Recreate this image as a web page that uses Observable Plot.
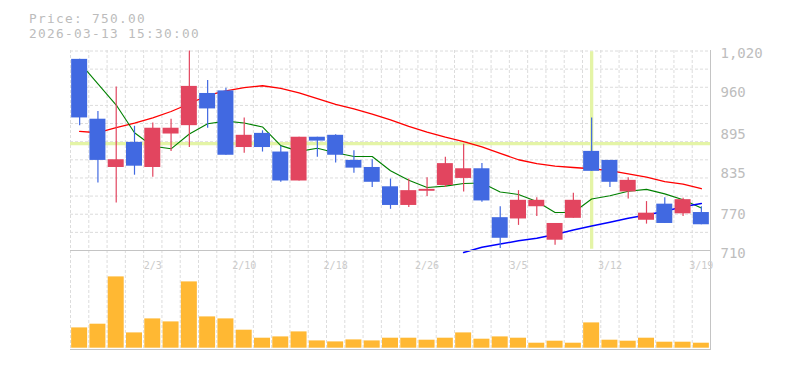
<!DOCTYPE html>
<html>
<head>
<meta charset="utf-8">
<script src="https://cdn.jsdelivr.net/npm/d3@7"></script>
<script src="https://cdn.jsdelivr.net/npm/@observablehq/plot@0.6"></script>
<style>
  body { margin: 0; background: #fff; }
  #chart { position: relative; width: 785px; height: 370px; overflow: hidden; }
  #chart svg { position: absolute; left: 0; }
</style>
</head>
<body>
<div id="chart"></div>
<script>
// ---- data ----
const dates = ["1/28","1/29","1/30","2/2","2/3","2/4","2/5","2/6","2/9","2/10","2/12","2/13","2/16","2/17","2/18","2/19","2/20","2/24","2/25","2/26","2/27","3/2","3/3","3/4","3/5","3/6","3/9","3/10","3/11","3/12","3/13","3/16","3/17","3/18","3/19"];
const open  = [1007, 914, 839, 878, 839, 891, 904, 954, 958, 870, 892, 863, 818, 886, 889, 850, 839, 809, 780, 802, 811, 822, 837, 761, 759, 778, 726, 760, 864, 850, 801, 757, 782, 767, 769];
const high  = [1007, 926, 964, 903, 908, 914, 1020, 974, 962, 916, 896, 872, 886, 886, 890, 865, 851, 821, 821, 823, 855, 875, 845, 778, 803, 792, 752, 799, 916, 850, 823, 786, 792, 791, 778];
const low   = [904, 815, 784, 827, 824, 864, 870, 900, 858, 861, 863, 816, 818, 855, 846, 830, 808, 774, 777, 794, 808, 801, 785, 713, 749, 763, 718, 760, 833, 808, 790, 751, 752, 763, 750];
const close = [916, 850, 851, 841, 900, 900, 965, 930, 858, 889, 870, 818, 886, 880, 858, 838, 816, 780, 803, 805, 845, 837, 787, 729, 788, 788, 752, 788, 833, 816, 819, 768, 752, 789, 750];
const volume = [20300, 24000, 71300, 15300, 29300, 26300, 66300, 31300, 29300, 18000, 10000, 11300, 16300, 7300, 6300, 8300, 7300, 10000, 10000, 8000, 10000, 15300, 9000, 11300, 10000, 5000, 7000, 5000, 25300, 8000, 7000, 10000, 6000, 6000, 5000];
const ma5  = [1002, 969, 936, 893, 872, 868, 891, 907, 911, 908, 902, 873, 864, 869, 862, 856, 856, 834, 819, 808, 810, 814, 815, 801, 797, 786, 769, 769, 790, 795, 802, 805, 798, 789, 776];
const ma25 = [895, 893, 901, 908, 916, 926, 938, 951, 958, 963, 966, 962, 955, 946, 937, 930, 922, 913, 903, 894, 886, 879, 871, 861, 851, 845, 841, 839, 837, 834, 829, 824, 817, 813, 806];
const ma75 = [null, null, null, null, null, null, null, null, null, null, null, null, null, null, null, null, null, null, null, null, null, 707, 715, 720, 725, 729, 735, 742, 748, 754, 760, 765, 771, 778, 783];
const xTickLabels = ["2/3","2/10","2/18","2/26","3/5","3/12","3/19"];
const yTickLabels = [1020, 960, 895, 835, 770, 710];
const priceLabel = "Price: 750.00";
const timeLabel = "2026-03-13 15:30:00";
const crossDate = "3/11";
const crossPrice = 876;

// ---- styles ----
const RED = "#e2455f", BLUE = "#4169e1", VOL = "#ffb833";
const GRID = "#dcdcdc", AXIS = "#c4c4c4", CROSS = "#e4f4a6";
const FONT = "DejaVu Sans Mono, monospace";

const rows = dates.map((d, i) => ({i, d, o: open[i], h: high[i], l: low[i], c: close[i], v: volume[i], m5: ma5[i], m25: ma25[i], m75: ma75[i]}));
const up = rows.filter(r => r.c >= r.o);
const down = rows.filter(r => r.c < r.o);
const xDomain = [-0.5, dates.length - 0.5];
const xRange = [70, 710];
const inset = 1.15;

const price = Plot.plot({
  width: 785, height: 252,
  marginTop: 50, marginBottom: 2, marginLeft: 70, marginRight: 75,
  x: {domain: xDomain, range: xRange, axis: null},
  y: {domain: [710, 1020], range: [250, 50.5], axis: null},
  style: {background: "transparent", overflow: "visible"},
  marks: [
    Plot.ruleY(d3.range(11).map(k => 1020 - k * 310 / 11), {stroke: GRID, strokeDasharray: "3,2"}),
    Plot.ruleX(d3.range(dates.length).map(k => k - 0.5), {stroke: GRID, strokeDasharray: "3,2"}),
    Plot.ruleY([crossPrice], {stroke: CROSS, strokeWidth: 3.3}),
    Plot.ruleX([dates.indexOf(crossDate)], {stroke: CROSS, strokeWidth: 3.3, y1: 712, y2: 1019}),
    Plot.line(rows, {x: "i", y: "m25", stroke: "#ff0000", strokeWidth: 1.3}),
    Plot.line(rows, {x: "i", y: "m5", stroke: "#008000", strokeWidth: 1.1}),
    Plot.line(rows, {x: "i", y: "m75", stroke: "#0000ff", strokeWidth: 1.5}),
    Plot.ruleX(up, {x: "i", y1: "l", y2: "h", stroke: RED, strokeWidth: 1.2}),
    Plot.ruleX(down, {x: "i", y1: "l", y2: "h", stroke: BLUE, strokeWidth: 1.2}),
    Plot.rect(up, {x1: d => d.i - 0.5, x2: d => d.i + 0.5, y1: "o", y2: "c", fill: RED, insetLeft: inset, insetRight: inset}),
    Plot.rect(down, {x1: d => d.i - 0.5, x2: d => d.i + 0.5, y1: "o", y2: "c", fill: BLUE, insetLeft: inset, insetRight: inset}),
    Plot.frame({anchor: "bottom", stroke: AXIS}),
    Plot.frame({anchor: "right", stroke: AXIS}),
    Plot.text(yTickLabels, {x: xDomain[1], y: d => d, text: d => d3.format(",")(d), textAnchor: "start", dx: 10, dy: 3, fill: "#bdbdbd", fontSize: 14, fontFamily: FONT})
  ]
});
price.style.top = "0px";

const vol = Plot.plot({
  width: 785, height: 120,
  marginTop: 0, marginBottom: 21, marginLeft: 70, marginRight: 75,
  x: {domain: xDomain, range: xRange, axis: null},
  y: {domain: [0, 96000], range: [97.7, 1.7], axis: null},
  style: {background: "transparent", overflow: "visible"},
  marks: [
    Plot.ruleX(d3.range(dates.length).map(k => k - 0.5), {stroke: GRID, strokeDasharray: "3,2"}),
    Plot.rect(rows, {x1: d => d.i - 0.5, x2: d => d.i + 0.5, y1: 0, y2: "v", fill: VOL, insetLeft: inset, insetRight: inset}),
    Plot.frame({anchor: "bottom", stroke: AXIS}),
    Plot.frame({anchor: "right", stroke: AXIS}),
    Plot.frame({anchor: "top", stroke: AXIS}),
    Plot.text(xTickLabels, {x: d => dates.indexOf(d), frameAnchor: "top", dy: 11.5, text: d => d, fill: "#cbcbcb", fontSize: 10, fontFamily: FONT})
  ]
});
vol.style.top = "250px";

const chart = document.getElementById("chart");
chart.appendChild(price);
chart.appendChild(vol);

const t = d3.create("svg").attr("width", 785).attr("height", 45).style("top", "0px");
t.append("text").attr("x", 29).attr("y", 23.3).text(priceLabel)
  .attr("fill", "#bcbcbc").attr("font-size", 12.8).attr("letter-spacing", 1.3).attr("font-family", FONT);
t.append("text").attr("x", 29).attr("y", 38.2).text(timeLabel)
  .attr("fill", "#bcbcbc").attr("font-size", 12.8).attr("letter-spacing", 1.3).attr("font-family", FONT);
chart.appendChild(t.node());
</script>
</body>
</html>
